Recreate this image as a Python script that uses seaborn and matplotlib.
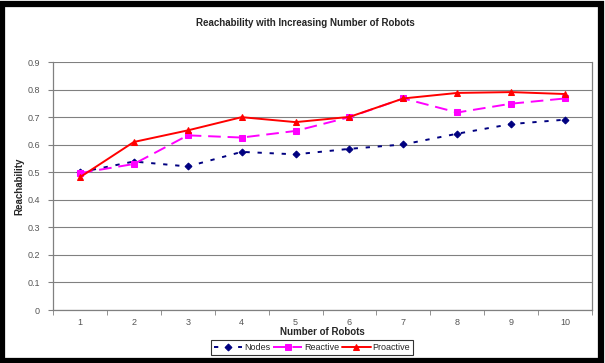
import matplotlib
matplotlib.use("Agg")
import matplotlib.pyplot as plt
import seaborn as sns
import pandas as pd
from matplotlib.patches import Rectangle

robots = [1, 2, 3, 4, 5, 6, 7, 8, 9, 10]
nodes = [0.500, 0.539, 0.521, 0.574, 0.565, 0.585, 0.601, 0.640, 0.675, 0.691]
reactive = [0.497, 0.530, 0.634, 0.626, 0.650, 0.700, 0.768, 0.717, 0.749, 0.768]
proactive = [0.482, 0.610, 0.652, 0.700, 0.682, 0.701, 0.768, 0.788, 0.791, 0.784]
y_ticks = [0, 0.1, 0.2, 0.3, 0.4, 0.5, 0.6, 0.7, 0.8, 0.9]

sns.set_style("white")
plt.rcParams["font.family"] = ["Liberation Sans", "DejaVu Sans"]

fig = plt.figure(figsize=(6.05, 3.63), dpi=100)
ax = fig.add_axes([0.0876, 0.146, 0.891, 0.683])

series = [
    ("Nodes", nodes, "#000080", "D", (2.2, 4.0), 3.5),
    ("Reactive", reactive, "#FF00FF", "s", (6.5, 3.5), 4.5),
    ("Proactive", proactive, "#FF0000", "^", None, 5),
]
for name, vals, color, marker, dash, ms in series:
    df = pd.DataFrame({"Number of Robots": robots, "Reachability": vals})
    line_kw = dict(color=color, marker=marker, markersize=ms, linewidth=1.4,
                   markeredgecolor=color, markerfacecolor=color, label=name)
    if dash is not None:
        line_kw["dashes"] = dash
    sns.lineplot(data=df, x="Number of Robots", y="Reachability", ax=ax, **line_kw)

ax.set_xlim(0.5, 10.5)
ax.set_ylim(0, 0.9)
ax.set_yticks(y_ticks)
ax.set_yticklabels([f"{t:g}" for t in y_ticks])
ax.set_xticks(robots)
ax.set_xticks([r + 0.5 for r in [0] + robots], minor=True)
ax.tick_params(axis="x", which="major", length=0, labelsize=6.5, labelcolor="#555555", pad=6)
ax.tick_params(axis="x", which="minor", length=3.5, direction="out", color="#808080", bottom=True)
ax.tick_params(axis="y", which="major", length=3.5, direction="out", color="#808080",
               labelsize=6.5, labelcolor="#555555", left=True, pad=6)

ax.grid(axis="y", color="#808080", linewidth=0.8)
ax.set_axisbelow(True)
for side in ["left", "bottom", "right"]:
    ax.spines[side].set_visible(True)
    ax.spines[side].set_color("#808080")
    ax.spines[side].set_linewidth(0.9)
ax.spines["top"].set_visible(False)

ax.set_xlabel("Number of Robots", fontsize=7, fontweight="bold", labelpad=-0.5)
ax.set_ylabel("Reachability", fontsize=7, fontweight="bold", labelpad=2)
fig.text(0.505, 0.937, "Reachability with Increasing Number of Robots",
         ha="center", va="center", fontsize=7, fontweight="bold")

leg = ax.legend(loc="center", bbox_to_anchor=(0.48, -0.152), ncol=3, fontsize=6.5,
                frameon=True, fancybox=False, edgecolor="black", handlelength=3.2,
                handletextpad=0.2, columnspacing=0.3, borderpad=0.3)
leg.get_frame().set_linewidth(0.8)

fig.patches.append(Rectangle((0.004, 0.006), 0.99, 0.982, transform=fig.transFigure,
                             fill=False, edgecolor="black", linewidth=4.5))

fig.savefig("out.png", dpi=100)
